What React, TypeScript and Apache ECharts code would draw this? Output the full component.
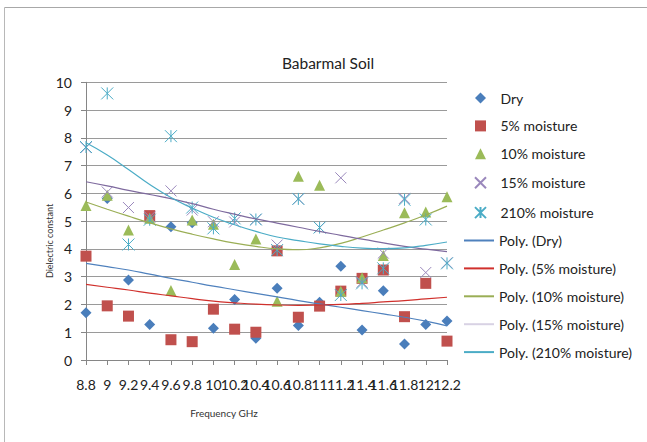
import React, { useEffect, useRef } from 'react';
import * as echarts from 'echarts';

const categories = ['8.8', '9', '9.2', '9.4', '9.6', '9.8', '10', '10.2', '10.4', '10.6', '10.8', '11', '11.2', '11.4', '11.6', '11.8', '12', '12.2'];
const yTicks = [0, 10, 1]; // min, max, interval

const dry = [1.70, 5.82, 2.88, 1.28, 4.80, 4.94, 1.14, 2.18, 0.78, 2.58, 1.24, 2.08, 3.38, 1.08, 2.49, 0.58, 1.28, 1.40];
const m5 = [3.74, 1.95, 1.58, 5.20, 0.73, 0.66, 1.83, 1.11, 1.00, 3.93, 1.54, 1.94, 2.48, 2.94, 3.24, 1.56, 2.76, 0.68];
const m10 = [5.56, 5.93, 4.68, 5.10, 2.50, 5.04, 4.89, 3.44, 4.36, 2.12, 6.62, 6.29, 2.48, 2.96, 3.76, 5.30, 5.33, 5.88];
const m15 = [7.65, 6.05, 5.49, 5.15, 6.09, 5.40, 4.98, 4.97, 5.06, 4.14, 5.80, 4.77, 6.56, 2.80, 3.85, 5.82, 3.15, 3.50];
const m210 = [7.67, 9.60, 4.16, 5.05, 8.06, 5.49, 4.74, 5.10, 5.06, 3.96, 5.80, 4.77, 2.34, 2.76, 3.30, 5.77, 5.06, 3.48];

const trendDry = [3.48, 3.36, 3.24, 3.09, 2.94, 2.80, 2.66, 2.53, 2.40, 2.27, 2.14, 2.02, 1.90, 1.78, 1.66, 1.54, 1.40, 1.23];
const trend5 = [2.72, 2.62, 2.52, 2.41, 2.31, 2.21, 2.12, 2.06, 2.01, 1.98, 1.97, 1.98, 2.00, 2.04, 2.09, 2.14, 2.20, 2.26];
const trend10 = [5.69, 5.43, 5.18, 4.94, 4.72, 4.53, 4.36, 4.21, 4.09, 4.00, 3.97, 4.04, 4.20, 4.43, 4.68, 4.94, 5.22, 5.54];
const trend15 = [6.42, 6.27, 6.11, 5.96, 5.81, 5.63, 5.43, 5.25, 5.08, 4.93, 4.78, 4.63, 4.49, 4.35, 4.22, 4.09, 3.99, 3.90];
const trend210 = [7.82, 7.38, 6.86, 6.32, 5.85, 5.47, 5.14, 4.87, 4.63, 4.43, 4.30, 4.18, 4.09, 4.03, 4.01, 4.04, 4.13, 4.25];

const FONT = 'Lato, "Open Sans", sans-serif';

export default function App() {
  const ref = useRef<HTMLDivElement>(null);
  useEffect(() => {
    if (!ref.current) return;
    const chart = echarts.init(ref.current, undefined, { renderer: 'svg' });
    const xPath = 'path://M0,0L10,10M10,0L0,10';
    const starPath = 'path://M0,0L10,10M10,0L0,10M5,0L5,10';
    const trend = (name: string, data: number[], color: string) => ({
      name,
      type: 'line',
      data,
      smooth: true,
      symbol: 'none',
      lineStyle: { color, width: 1.2 },
      itemStyle: { color },
      z: 3,
    });
    const scatterBase = { type: 'scatter', symbolKeepAspect: true, z: 2 };
    const hidden = { opacity: 0 };
    chart.setOption({
      animation: false,
      backgroundColor: '#ffffff',
      textStyle: { fontFamily: FONT },
      grid: { left: 86, right: 200, top: 82.3, bottom: 82, containLabel: false },
      xAxis: {
        type: 'category',
        data: categories,
        boundaryGap: false,
        axisLine: { lineStyle: { color: '#868686' } },
        axisTick: { show: true, length: 5, lineStyle: { color: '#868686' } },
        axisLabel: { interval: 0, margin: 17, fontSize: 14, color: '#222', fontFamily: FONT },
        splitLine: { show: false },
      },
      yAxis: {
        type: 'value',
        min: yTicks[0],
        max: yTicks[1],
        interval: yTicks[2],
        axisLine: { show: true, lineStyle: { color: '#868686' } },
        axisTick: { show: true, length: 5, lineStyle: { color: '#868686' } },
        axisLabel: { margin: 14, fontSize: 14, color: '#222', fontFamily: FONT },
        splitLine: { show: true, lineStyle: { color: '#9a9a9a', width: 1 } },
      },
      legend: [
        {
          orient: 'vertical',
          left: 472.5,
          top: 91,
          padding: 0,
          itemWidth: 11,
          itemHeight: 11,
          itemGap: 13.9,
          textStyle: { fontSize: 14, color: '#222', fontFamily: FONT, padding: [0, 0, 0, 9.5] },
          data: ['Dry', '5% moisture', '10% moisture', '15% moisture', '210% moisture'],
        },
        {
          orient: 'vertical',
          left: 463,
          top: 233.5,
          padding: 0,
          itemWidth: 30,
          itemHeight: 11,
          itemGap: 13.9,
          textStyle: { fontSize: 14, color: '#222', fontFamily: FONT },
          data: [
            { name: 'Poly. (Dry)', itemStyle: hidden },
            { name: 'Poly. (5% moisture)', itemStyle: hidden },
            { name: 'Poly. (10% moisture)', itemStyle: hidden },
            { name: 'Poly. (15% moisture)', itemStyle: hidden, lineStyle: { color: '#d8d2e4' } },
            { name: 'Poly. (210% moisture)', itemStyle: hidden },
          ],
        },
      ],
      graphic: [
        { type: 'line', shape: { x1: 4.5, y1: 7.5, x2: 647, y2: 7.5 }, style: { stroke: '#a8a8a8', lineWidth: 1 } },
        { type: 'line', shape: { x1: 4.5, y1: 7.5, x2: 4.5, y2: 442 }, style: { stroke: '#b8b8b8', lineWidth: 1 } },
        { type: 'text', x: 328, y: 63, style: { text: 'Babarmal Soil', font: '15.5px ' + FONT, fill: '#222', textAlign: 'center', textVerticalAlign: 'middle' } },
        { type: 'text', x: 49, y: 241, rotation: Math.PI / 2, style: { text: 'Dielectric constant', font: '9px ' + FONT, fill: '#333', textAlign: 'center', textVerticalAlign: 'middle' } },
        { type: 'text', x: 224, y: 413, style: { text: 'Frequency GHz', font: '10px ' + FONT, fill: '#333', textAlign: 'center', textVerticalAlign: 'middle' } },
      ],
      series: [
        { ...scatterBase, name: 'Dry', data: dry, symbol: 'diamond', symbolSize: 11, itemStyle: { color: '#4A7EBB', opacity: 1 } },
        { ...scatterBase, name: '5% moisture', data: m5, symbol: 'rect', symbolSize: 11, itemStyle: { color: '#C0504D', opacity: 1 } },
        { ...scatterBase, name: '10% moisture', data: m10, symbol: 'triangle', symbolSize: 11, itemStyle: { color: '#9BBB59', opacity: 1 } },
        { ...scatterBase, name: '15% moisture', data: m15, symbol: xPath, symbolSize: 11, itemStyle: { color: 'none', borderColor: '#9A88BC', borderWidth: 1, opacity: 1 } },
        { ...scatterBase, name: '210% moisture', data: m210, symbol: starPath, symbolSize: 12, itemStyle: { color: 'none', borderColor: '#4BACC6', borderWidth: 1, opacity: 1 } },
        trend('Poly. (Dry)', trendDry, '#4F81BD'),
        trend('Poly. (5% moisture)', trend5, '#D0302C'),
        trend('Poly. (10% moisture)', trend10, '#9AAE55'),
        trend('Poly. (15% moisture)', trend15, '#7E6A9E'),
        trend('Poly. (210% moisture)', trend210, '#4BACC6'),
      ],
    });
    return () => chart.dispose();
  }, []);
  return <div ref={ref} style={{ position: 'fixed', left: 0, top: 0, width: 647, height: 442 }} />;
}
